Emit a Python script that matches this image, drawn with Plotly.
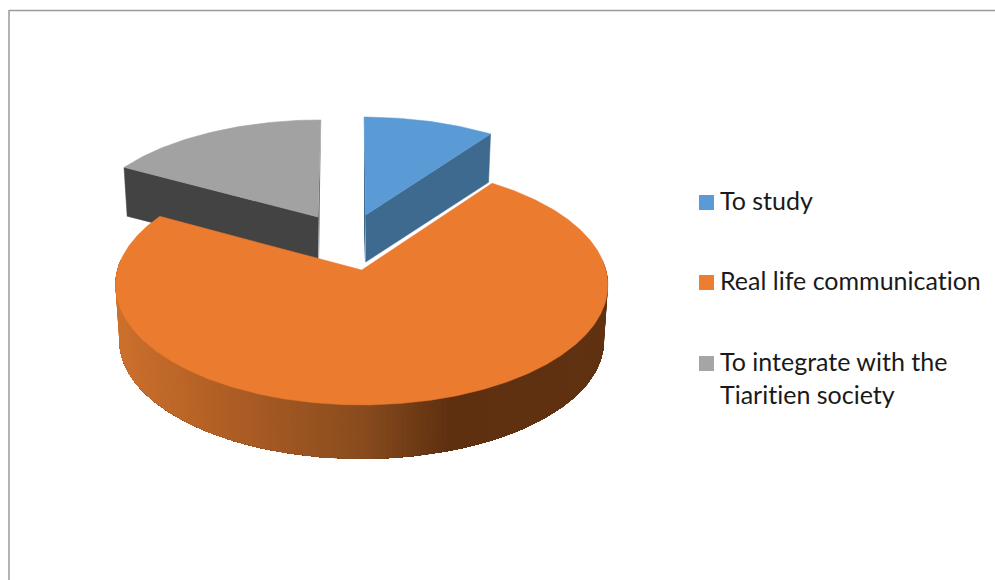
import math
import plotly.graph_objects as go

# Survey shares, in percent, going clockwise from twelve o'clock
CATEGORIES = ["To study", "Real life communication", "To integrate with the<br>Tiaritien society"]
SHARES = [10, 73, 17]

# Colours of each slice
TOP_COLORS = ["#5B9BD5", "#EB7B2F", "#A2A2A2"]
SIDE_COLORS = ["#3E6A90", None, "#434343"]
KEY_COLORS = ["#5B9BD5", "#ED7D31", "#A5A5A5"]

# Shading across the curved orange wall: pixel x and RGB
WALL_X = [118, 200, 360, 450, 608]
WALL_RGB = [(204, 112, 45), (182, 98, 38), (138, 76, 30), (94, 48, 16), (96, 50, 18)]

# Perspective projection of the unit disk onto the page
PERSPECTIVE = 0.125
RADIUS_X = 244.3
RADIUS_Y = 118.1
WALL_SHRINK = 0.984

# Placement of each slice: apex x, apex y, x scale, y scale, shear, wall depth
PLACEMENT = [
    (365.7, 215.0, 0.968, 0.933, -0.017, 47),
    (361.7, 270.0, 1.000, 1.000, 0.000, 56),
    (318.0, 217.0, 0.968, 0.925, 0.030, 48),
]

W, H = 995, 580


def project(theta_deg, radius, place):
    """Map a disk point (clockwise degrees from the top) to page pixels."""
    ax, ay, sx, sy, shear, _ = place
    t = math.radians(theta_deg)
    u, v = radius * math.sin(t), radius * math.cos(t)
    d = 1 + PERSPECTIVE * v
    px = RADIUS_X * u / d * sx
    py = RADIUS_Y * v / d * sy
    return ax + px + shear * py, ay - py


def lower(point, place):
    """Point on the underside directly below a point of the top face."""
    ax, ay, _, _, _, depth = place
    x, y = point
    return ax + (x - ax) * WALL_SHRINK, ay + (y - ay) * WALL_SHRINK + depth


def arc(a0, a1, place, step=1.0):
    n = max(2, int(abs(a1 - a0) / step))
    return [project(a0 + (a1 - a0) * i / n, 1, place) for i in range(n + 1)]


def polygon(points, color, line=0.0):
    xs = [p[0] for p in points] + [points[0][0]]
    ys = [p[1] for p in points] + [points[0][1]]
    return go.Scatter(
        x=xs, y=ys, mode="lines", fill="toself", fillcolor=color,
        line=dict(color=color, width=line), hoverinfo="skip", showlegend=False,
    )


def wall_color(x):
    if x <= WALL_X[0]:
        return "rgb(%d,%d,%d)" % WALL_RGB[0]
    for i in range(len(WALL_X) - 1):
        if x <= WALL_X[i + 1]:
            f = (x - WALL_X[i]) / (WALL_X[i + 1] - WALL_X[i])
            c = [WALL_RGB[i][k] + (WALL_RGB[i + 1][k] - WALL_RGB[i][k]) * f for k in range(3)]
            return "rgb(%d,%d,%d)" % tuple(round(v) for v in c)
    return "rgb(%d,%d,%d)" % WALL_RGB[-1]


# Cumulative slice boundaries in degrees
total = sum(SHARES)
edges = [0]
for s in SHARES:
    edges.append(edges[-1] + s / total * 360)

fig = go.Figure()
blue, orange, gray = PLACEMENT

# Slices at the back: flat cut face first, then the top face
blue_apex = (blue[0], blue[1])
blue_corner = project(edges[1], 1, blue)
fig.add_trace(polygon([blue_apex, blue_corner, lower(blue_corner, blue),
                       (blue_apex[0], blue_apex[1] + blue[5])], SIDE_COLORS[0], 0.5))
blue_back = project(edges[0], 1, blue)
fig.add_trace(polygon([blue_apex, blue_back, (blue_back[0], blue_apex[1] + blue[5])], SIDE_COLORS[0]))
fig.add_trace(polygon([blue_apex] + arc(edges[0], edges[1], blue), TOP_COLORS[0], 0.5))

gray_apex = (gray[0], gray[1])
gray_corner = project(edges[2], 1, gray)
gray_back = project(edges[3], 1, gray)
fig.add_trace(polygon([gray_apex, gray_corner, lower(gray_corner, gray),
                       (gray_apex[0], gray_apex[1] + gray[5])], SIDE_COLORS[2], 0.5))
fig.add_trace(polygon([gray_apex, gray_back, (gray_apex[0] + 1, gray_apex[1] + gray[5])], "#6E6E6E"))
fig.add_trace(polygon([gray_apex] + arc(edges[2], edges[3], gray), TOP_COLORS[2], 0.5))

# Curved orange wall: strips overlap the next ones so no seams show through the shading
theta0, theta1 = max(edges[1], 85), min(edges[2], 275)
STRIPS = 180
for i in range(STRIPS):
    a = theta0 + (theta1 - theta0) * i / STRIPS
    mid = theta0 + (theta1 - theta0) * (i + 0.5) / STRIPS
    outline = [project(theta0 + (theta1 - theta0) * j / STRIPS, 1, orange) for j in range(i, STRIPS + 1)]
    color = wall_color(project(mid, 1, orange)[0])
    fig.add_trace(polygon(outline + [lower(q, orange) for q in reversed(outline)], color))

# Orange top face
fig.add_trace(polygon([(orange[0], orange[1])] + arc(edges[1], edges[2], orange, 0.5), TOP_COLORS[1], 0.5))

# Legend keys and labels
KEY_X, KEY_SIZE, LABEL_X = 699, 15, 720
KEY_Y = [195, 275, 356]
shapes = [
    dict(type="rect", xref="x", yref="y", x0=KEY_X, x1=KEY_X + KEY_SIZE, y0=y, y1=y + KEY_SIZE,
         fillcolor=c, line=dict(width=0), layer="above")
    for y, c in zip(KEY_Y, KEY_COLORS)
]
# Frame lines along the top and left of the page
shapes.append(dict(type="line", xref="x", yref="y", x0=9, x1=W, y0=10.5, y1=10.5,
                   line=dict(color="#9A9A9A", width=1.5)))
shapes.append(dict(type="line", xref="x", yref="y", x0=9, x1=9, y0=10, y1=H,
                   line=dict(color="#9A9A9A", width=1.5)))

annotations = [
    dict(x=LABEL_X - 1, y=y + KEY_SIZE / 2 - 19, xref="x", yref="y", xanchor="left", yanchor="top",
         align="left", showarrow=False, text=t, borderpad=0,
         font=dict(family="Lato", size=25, color="#1A1A1A"))
    for y, t in zip(KEY_Y, CATEGORIES)
]

fig.update_layout(
    width=W, height=H, margin=dict(l=0, r=0, t=0, b=0),
    paper_bgcolor="white", plot_bgcolor="white", showlegend=False,
    xaxis=dict(range=[0, W], visible=False, fixedrange=True),
    yaxis=dict(range=[H, 0], visible=False, fixedrange=True),
    shapes=shapes, annotations=annotations,
)

# Lato joins "ti" into a ligature by default; the labels read better without it
no_ligatures = (
    "document.querySelectorAll('.annotation text')"
    ".forEach(function(t){t.style.fontVariantLigatures='none';});"
)
fig.write_html("out.html", config=dict(displayModeBar=False), post_script=no_ligatures)
